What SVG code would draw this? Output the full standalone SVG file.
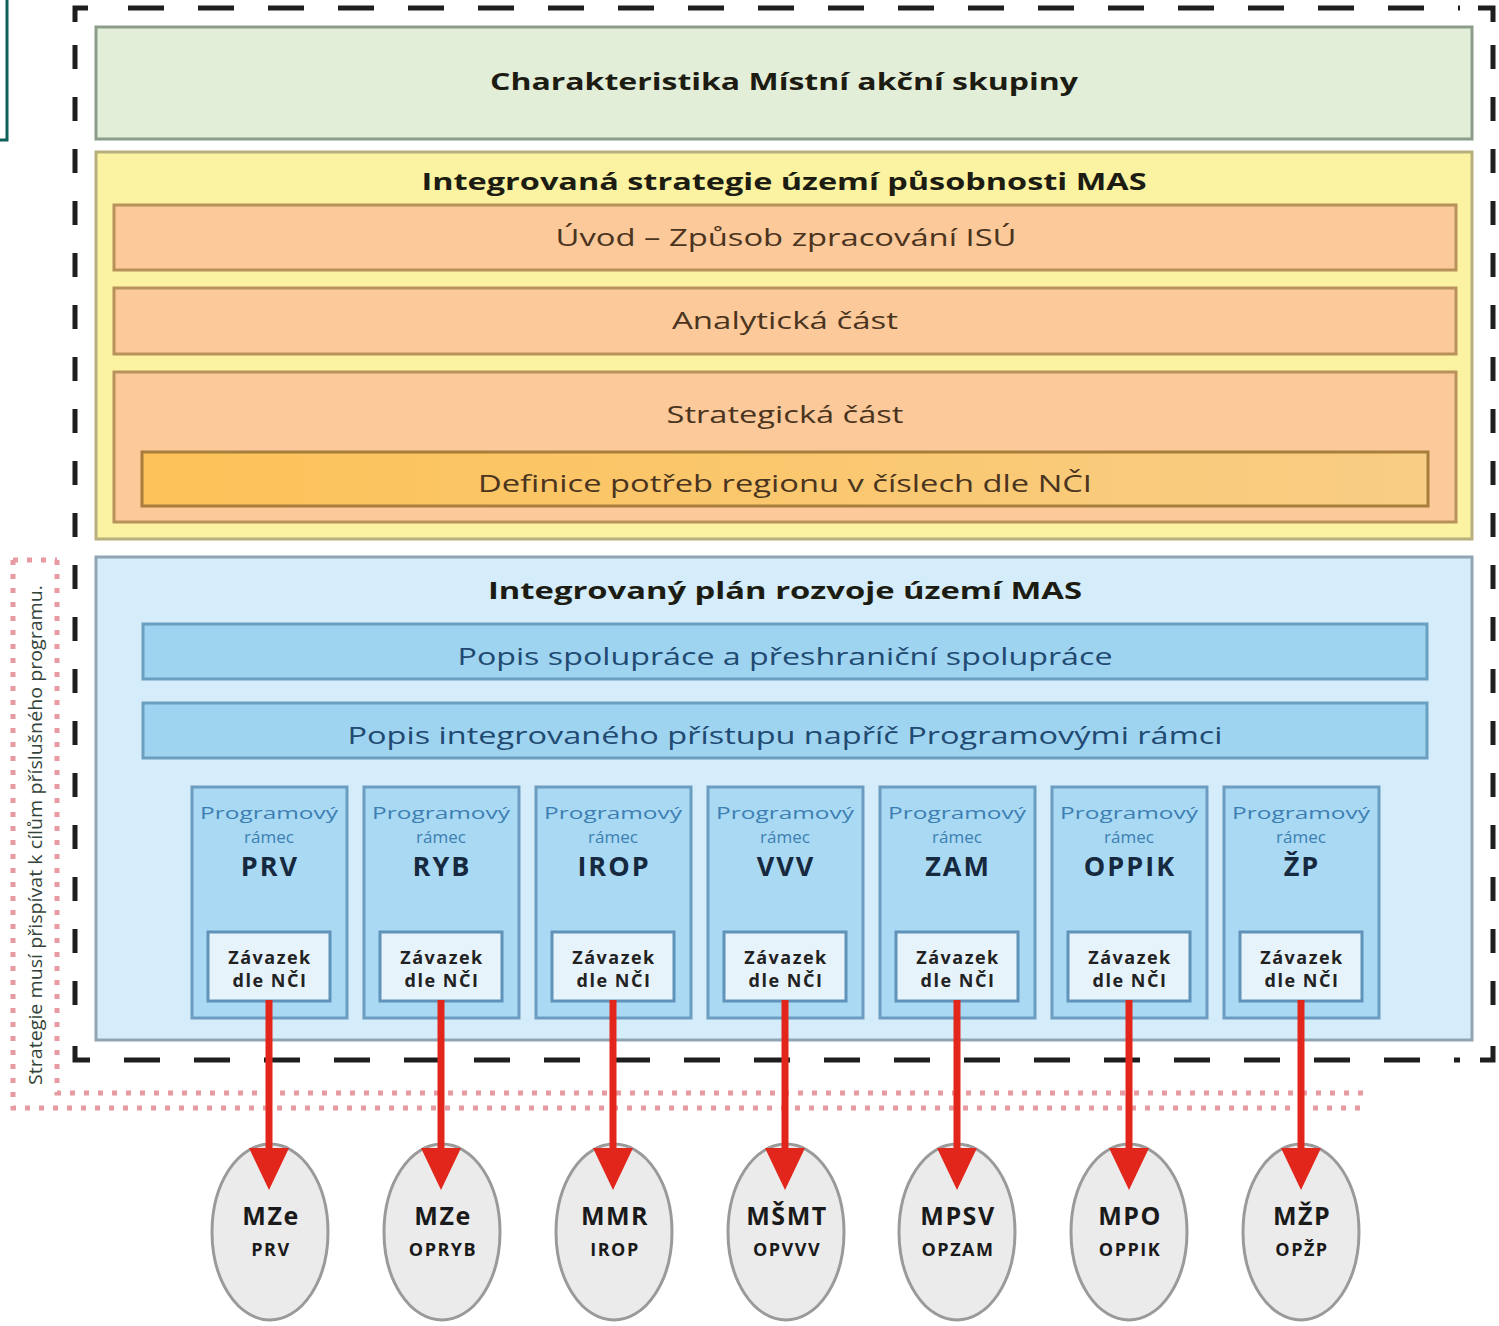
<svg xmlns="http://www.w3.org/2000/svg" width="1499" height="1326" viewBox="0 0 1499 1326">
<style>
text{font-family:"Open Sans","Liberation Sans",sans-serif;text-anchor:middle;dominant-baseline:central}
.t{font-weight:bold;font-size:24px;fill:#1c1c12}
.o{font-size:24px;fill:#4a3420}
.b{font-size:24px;fill:#1f4a72}
.col{fill:#a9d9f3;stroke:#6c9dc0;stroke-width:3}
.inn{fill:#e7f3fb;stroke:#5f93ba;stroke-width:3}
.pr{font-size:17px;fill:#3d7fb2}
.pk{font-weight:bold;font-size:27px;fill:#16293f;letter-spacing:2px}
.zv{font-weight:bold;font-size:18px;fill:#222;letter-spacing:1.5px}
.el{fill:#ebebeb;stroke:#9a9a9a;stroke-width:3}
.e1{font-weight:bold;font-size:25px;fill:#1a1a1a;letter-spacing:1.5px}
.e2{font-weight:bold;font-size:18px;fill:#1a1a1a;letter-spacing:1.5px}
.arr{stroke:#e3261b;stroke-width:7;fill:none}
.dash{stroke:#1e1e1e;stroke-width:5;fill:none}
.dot{stroke:#e89aa2;stroke-width:5;fill:none;stroke-dasharray:5 9}
</style>
<defs>
<linearGradient id="gd" x1="0" x2="1" y1="0" y2="0">
<stop offset="0" stop-color="#fdc258"/>
<stop offset="1" stop-color="#f8cd85"/>
</linearGradient>
<linearGradient id="gc" x1="0" x2="0" y1="0" y2="1">
<stop offset="0" stop-color="#aedbf3"/>
<stop offset="1" stop-color="#99d0ef"/>
</linearGradient>
<marker id="ah" viewBox="0 0 42 40" refX="12" refY="20" markerWidth="42" markerHeight="40" markerUnits="userSpaceOnUse" orient="auto">
<path d="M0,0 L42,20 L0,40 Z" fill="#e3261b"/>
</marker>
</defs>

<path d="M0,140 H7 V0" stroke="#0f5f5a" stroke-width="3" fill="none"/>

<g id="frame">
<path class="dash" d="M75,22 V8 H88"/>
<path class="dash" d="M1478,8 H1493 V22"/>
<path class="dash" d="M75,1046 V1060 H90"/>
<path class="dash" d="M1480,1060 H1493 V1046"/>
<line class="dash" x1="128" y1="8" x2="1460" y2="8" stroke-dasharray="36 34"/>
<line class="dash" x1="124" y1="1060" x2="1460" y2="1060" stroke-dasharray="36 34"/>
<line class="dash" x1="75" y1="45" x2="75" y2="1030" stroke-dasharray="24 28"/>
<line class="dash" x1="1493" y1="45" x2="1493" y2="1030" stroke-dasharray="24 28"/>
</g>

<g id="goal-frame">
<path class="dot" d="M13,560 V1108 H1365"/>
<path class="dot" d="M57,560 V1093 H1365"/>
<path class="dot" d="M13,560 H57"/>
<text transform="translate(35,835) rotate(-90)" font-size="18" fill="#34443a" textLength="500" lengthAdjust="spacingAndGlyphs">Strategie  musí přispívat k cílům příslušného programu.</text>
</g>

<g id="charakteristika">
<rect x="96" y="27" width="1376" height="112" fill="#e3eed9" stroke="#8c9c8a" stroke-width="3"/>
<text class="t" x="784" y="80" textLength="588" lengthAdjust="spacingAndGlyphs">Charakteristika Místní akční skupiny</text>
</g>

<g id="isu">
<rect x="96" y="152" width="1376" height="387" fill="#fbf3a1" stroke="#b7af7c" stroke-width="3"/>
<text class="t" x="784" y="180" textLength="725" lengthAdjust="spacingAndGlyphs">Integrovaná strategie území působnosti MAS</text>
</g>
<g id="uvod">
<rect x="114" y="205" width="1342" height="65" fill="#fbc99a" stroke="#b8925a" stroke-width="3"/>
<text class="o" x="786" y="236" textLength="461" lengthAdjust="spacingAndGlyphs">Úvod – Způsob zpracování ISÚ</text>
</g>
<g id="analyticka">
<rect x="114" y="288" width="1342" height="66" fill="#fbc99a" stroke="#b8925a" stroke-width="3"/>
<text class="o" x="785" y="319" textLength="226" lengthAdjust="spacingAndGlyphs">Analytická část</text>
</g>
<g id="strategicka">
<rect x="114" y="372" width="1342" height="150" fill="#fbc99a" stroke="#b8925a" stroke-width="3"/>
<text class="o" x="785" y="413" textLength="237" lengthAdjust="spacingAndGlyphs">Strategická část</text>
</g>
<g id="definice">
<rect x="142" y="452" width="1286" height="54" fill="url(#gd)" stroke="#a87e3c" stroke-width="3"/>
<text class="o" x="785" y="482" textLength="614" lengthAdjust="spacingAndGlyphs">Definice potřeb regionu v číslech dle NČI</text>
</g>

<g id="iprum">
<rect x="96" y="557" width="1376" height="483" fill="#d5edfa" stroke="#8fa5b5" stroke-width="3"/>
<text class="t" x="785" y="589" textLength="594" lengthAdjust="spacingAndGlyphs">Integrovaný plán rozvoje území MAS</text>
</g>
<g id="spoluprace">
<rect x="143" y="624" width="1284" height="55" fill="#9fd4f0" stroke="#6a9fc0" stroke-width="3"/>
<text class="b" x="785" y="655" textLength="655" lengthAdjust="spacingAndGlyphs">Popis spolupráce a přeshraniční spolupráce</text>
</g>
<g id="pristup">
<rect x="143" y="703" width="1284" height="55" fill="#9fd4f0" stroke="#6a9fc0" stroke-width="3"/>
<text class="b" x="785" y="734" textLength="875" lengthAdjust="spacingAndGlyphs">Popis integrovaného přístupu napříč Programovými rámci</text>
</g>

<g id="pr-prv">
<rect class="col" x="192" y="787" width="155" height="231" fill="url(#gc)"/>
<text class="pr" x="269" y="812" textLength="138" lengthAdjust="spacingAndGlyphs">Programový</text>
<text class="pr" x="269" y="836">rámec</text>
<text class="pk" x="270" y="865">PRV</text>
<rect class="inn" x="208" y="932" width="122" height="69"/>
<text class="zv" x="270" y="957">Závazek</text>
<text class="zv" x="270" y="980">dle NČI</text>
</g>
<g id="pr-ryb">
<rect class="col" x="364" y="787" width="155" height="231" fill="url(#gc)"/>
<text class="pr" x="441" y="812" textLength="138" lengthAdjust="spacingAndGlyphs">Programový</text>
<text class="pr" x="441" y="836">rámec</text>
<text class="pk" x="442" y="865">RYB</text>
<rect class="inn" x="380" y="932" width="122" height="69"/>
<text class="zv" x="442" y="957">Závazek</text>
<text class="zv" x="442" y="980">dle NČI</text>
</g>
<g id="pr-irop">
<rect class="col" x="536" y="787" width="155" height="231" fill="url(#gc)"/>
<text class="pr" x="613" y="812" textLength="138" lengthAdjust="spacingAndGlyphs">Programový</text>
<text class="pr" x="613" y="836">rámec</text>
<text class="pk" x="614" y="865">IROP</text>
<rect class="inn" x="552" y="932" width="122" height="69"/>
<text class="zv" x="614" y="957">Závazek</text>
<text class="zv" x="614" y="980">dle NČI</text>
</g>
<g id="pr-vvv">
<rect class="col" x="708" y="787" width="155" height="231" fill="url(#gc)"/>
<text class="pr" x="785" y="812" textLength="138" lengthAdjust="spacingAndGlyphs">Programový</text>
<text class="pr" x="785" y="836">rámec</text>
<text class="pk" x="786" y="865">VVV</text>
<rect class="inn" x="724" y="932" width="122" height="69"/>
<text class="zv" x="786" y="957">Závazek</text>
<text class="zv" x="786" y="980">dle NČI</text>
</g>
<g id="pr-zam">
<rect class="col" x="880" y="787" width="155" height="231" fill="url(#gc)"/>
<text class="pr" x="957" y="812" textLength="138" lengthAdjust="spacingAndGlyphs">Programový</text>
<text class="pr" x="957" y="836">rámec</text>
<text class="pk" x="958" y="865">ZAM</text>
<rect class="inn" x="896" y="932" width="122" height="69"/>
<text class="zv" x="958" y="957">Závazek</text>
<text class="zv" x="958" y="980">dle NČI</text>
</g>
<g id="pr-oppik">
<rect class="col" x="1052" y="787" width="155" height="231" fill="url(#gc)"/>
<text class="pr" x="1129" y="812" textLength="138" lengthAdjust="spacingAndGlyphs">Programový</text>
<text class="pr" x="1129" y="836">rámec</text>
<text class="pk" x="1130" y="865">OPPIK</text>
<rect class="inn" x="1068" y="932" width="122" height="69"/>
<text class="zv" x="1130" y="957">Závazek</text>
<text class="zv" x="1130" y="980">dle NČI</text>
</g>
<g id="pr-zp">
<rect class="col" x="1224" y="787" width="155" height="231" fill="url(#gc)"/>
<text class="pr" x="1301" y="812" textLength="138" lengthAdjust="spacingAndGlyphs">Programový</text>
<text class="pr" x="1301" y="836">rámec</text>
<text class="pk" x="1302" y="865">ŽP</text>
<rect class="inn" x="1240" y="932" width="122" height="69"/>
<text class="zv" x="1302" y="957">Závazek</text>
<text class="zv" x="1302" y="980">dle NČI</text>
</g>

<g id="mze-prv">
<ellipse class="el" cx="270" cy="1232" rx="58" ry="88"/>
<text class="e1" x="271" y="1215">MZe</text>
<text class="e2" x="271" y="1249">PRV</text>
</g>
<g id="mze-opryb">
<ellipse class="el" cx="442" cy="1232" rx="58" ry="88"/>
<text class="e1" x="443" y="1215">MZe</text>
<text class="e2" x="443" y="1249">OPRYB</text>
</g>
<g id="mmr-irop">
<ellipse class="el" cx="614" cy="1232" rx="58" ry="88"/>
<text class="e1" x="615" y="1215">MMR</text>
<text class="e2" x="615" y="1249">IROP</text>
</g>
<g id="msmt-opvvv">
<ellipse class="el" cx="786" cy="1232" rx="58" ry="88"/>
<text class="e1" x="787" y="1215">MŠMT</text>
<text class="e2" x="787" y="1249">OPVVV</text>
</g>
<g id="mpsv-opzam">
<ellipse class="el" cx="957" cy="1232" rx="58" ry="88"/>
<text class="e1" x="958" y="1215">MPSV</text>
<text class="e2" x="958" y="1249">OPZAM</text>
</g>
<g id="mpo-oppik">
<ellipse class="el" cx="1129" cy="1232" rx="58" ry="88"/>
<text class="e1" x="1130" y="1215">MPO</text>
<text class="e2" x="1130" y="1249">OPPIK</text>
</g>
<g id="mzp-opzp">
<ellipse class="el" cx="1301" cy="1232" rx="58" ry="88"/>
<text class="e1" x="1302" y="1215">MŽP</text>
<text class="e2" x="1302" y="1249">OPŽP</text>
</g>

<g id="connectors">
<line class="arr" x1="269" y1="1000" x2="269" y2="1160" marker-end="url(#ah)"/>
<line class="arr" x1="441" y1="1000" x2="441" y2="1160" marker-end="url(#ah)"/>
<line class="arr" x1="613" y1="1000" x2="613" y2="1160" marker-end="url(#ah)"/>
<line class="arr" x1="785" y1="1000" x2="785" y2="1160" marker-end="url(#ah)"/>
<line class="arr" x1="957" y1="1000" x2="957" y2="1160" marker-end="url(#ah)"/>
<line class="arr" x1="1129" y1="1000" x2="1129" y2="1160" marker-end="url(#ah)"/>
<line class="arr" x1="1301" y1="1000" x2="1301" y2="1160" marker-end="url(#ah)"/>
</g>
</svg>
